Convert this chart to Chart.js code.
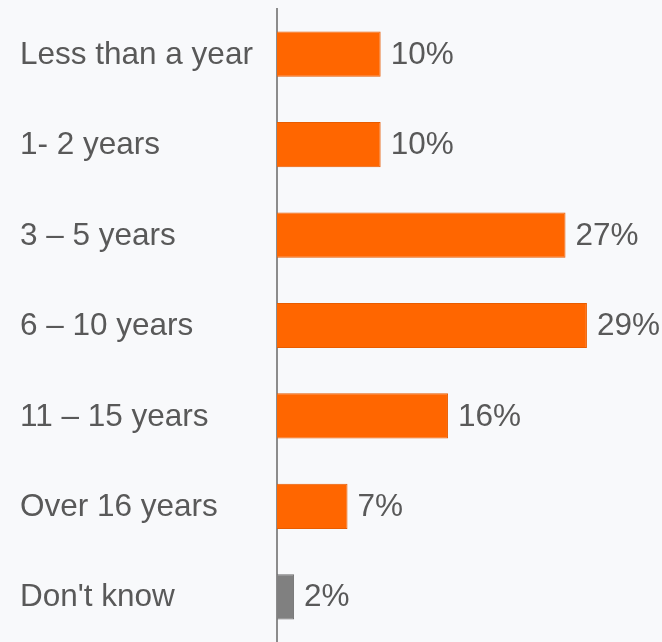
<!DOCTYPE html>
<html>
<head>
<meta charset="utf-8">
<script src="https://cdn.jsdelivr.net/npm/chart.js@4"></script>
<style>
  html, body { margin: 0; padding: 0; background: #f8f9fb; }
  #wrap { width: 662px; height: 642px; }
</style>
</head>
<body>
<div id="wrap"><canvas id="chart" width="662" height="642"></canvas></div>
<script>
const categories = ['Less than a year', '1- 2 years', '3 \u2013 5 years', '6 \u2013 10 years', '11 \u2013 15 years', 'Over 16 years', "Don't know"];
const values = [9.7, 9.7, 27, 29, 16, 6.6, 1.6];
const valueLabels = ['10%', '10%', '27%', '29%', '16%', '7%', '2%'];
const barColors = ['#ff6600', '#ff6600', '#ff6600', '#ff6600', '#ff6600', '#ff6600', '#808080'];
const borderColors = ['#e85c00', '#e85c00', '#e85c00', '#e85c00', '#e85c00', '#e85c00', '#6e6e6e'];

const textColor = '#595959';
const font = { family: 'Liberation Sans, Arial, sans-serif', size: 31.5 };

// category names on the left and percentages after each bar
const labelPlugin = {
  id: 'labels',
  afterDatasetsDraw(chart) {
    const ctx = chart.ctx;
    const meta = chart.getDatasetMeta(0);
    ctx.save();
    ctx.fillStyle = textColor;
    ctx.font = font.size + 'px ' + font.family;
    ctx.textBaseline = 'middle';
    meta.data.forEach((bar, i) => {
      ctx.textAlign = 'left';
      ctx.fillText(categories[i], 20, bar.y + 1);
      ctx.fillText(valueLabels[i], bar.x + 10, bar.y + 1);
    });
    ctx.restore();
  }
};

new Chart(document.getElementById('chart').getContext('2d'), {
  type: 'bar',
  data: {
    labels: categories,
    datasets: [{
      data: values,
      backgroundColor: barColors,
      borderColor: borderColors,
      borderWidth: 1,
      barPercentage: 0.5,
      categoryPercentage: 1
    }]
  },
  options: {
    indexAxis: 'y',
    responsive: false,
    animation: false,
    layout: { padding: { left: 0, right: 11, top: 9, bottom: -3 } },
    plugins: { legend: { display: false }, tooltip: { enabled: false } },
    scales: {
      x: { display: false, min: 0, max: 35 },
      y: {
        afterFit(scale) { scale.width = 277; },
        grid: { display: false, drawTicks: false },
        border: { display: true, color: '#8c8c8c', width: 2 },
        ticks: { display: false }
      }
    }
  },
  plugins: [labelPlugin]
});
</script>
</body>
</html>
